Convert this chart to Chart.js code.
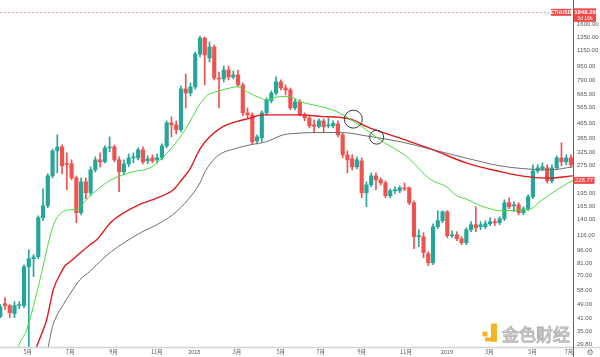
<!DOCTYPE html>
<html><head><meta charset="utf-8">
<script src="https://cdn.jsdelivr.net/npm/chart.js@4"></script>
<style>html,body{margin:0;padding:0;background:#fff}canvas{display:block}</style>
</head><body>
<canvas id="c" width="600" height="357"></canvas>
<script>
// Weekly ETHUSD candles, week 0 = week of 2017-03-20
const open = [42.0,49.4,48.2,43.6,48.2,48.2,78.1,86.4,88.5,143.7,
166.8,241.9,330,346.8,282.7,281,236,152.9,224.5,196,
260.7,295.4,288,342.5,346.8,295.4,254.3,281,302.5,302.5,
334.2,291.7,302.5,295.4,302.5,351.1,467.8,456.3,428.8,713.2,
678.4,731.2,1102,1344.3,1048.4,1202.3,817.3,807.2,902.9,827.6,
848.4,749.6,529.6,516.5,373.7,388,529.6,614.5,678.4,778.1,
722.1,704.2,563.2,606.9,516.5,497.6,456.3,447.8,479.5,450.6,
450.6,462,403,314.1,299,270.7,291.7,196,216.3,241.9,
230.2,221.7,188.8,201,201,208.4,208.4,173.1,113.5,113.5,
91.9,82.1,128.5,138.5,154.8,114.9,116.3,110.7,105.3,123.8,
131.7,128.5,128.5,133.4,136.8,135.1,141.9,173.1,166.8,168.9,
152.9,160.7,186.5,257.4,264,267.3,227.3,267.3,302.5,288,
302.5];
const high = [48.8,53.2,48.8,50.6,50.6,80.1,96.6,90.8,147.2,205.8,
248,338,403,355.5,322,295.4,241.9,236,236,270,
306.4,322,351,393,355,306.4,295,318,322,342.5,
346.8,310.2,314,318,360,479.5,504,479.5,740.3,859,
768.5,1130,1378,1360,1279.5,1232.6,880.7,949,949,891.6,
902.9,768.5,563.2,529.6,403,542.9,637.9,695.4,828,797.8,
749.6,722.1,630,622.2,529.6,510.1,485.6,491.6,491.6,497.6,
479.5,479.5,413.1,330,314.1,306.4,302.5,224.5,251.1,251.1,
236,227.3,205.8,211,213.6,221.7,211,177.5,123.8,119.3,
94.2,133.4,156.7,156.8,156.8,122.3,120.8,113.5,126.9,136.8,
164.7,136.8,138.5,143.7,141.9,145.5,179.7,184.2,175.3,173.1,
164.7,191.2,277.5,277.5,284.5,277.5,277.5,310.2,364.5,314.1,
314.1];
const low = [41.5,45.8,41.5,41.5,46.4,47.0,15,69.1,86.4,138.5,
162.7,236,251,248,203.5,230,135,149,181.9,189,
254,270.7,284.5,326,288,198.5,245,270.7,284.5,295.4,
281,281,284.5,284.5,295.4,342.5,393,408,418.3,563.2,
653.5,713.2,1061.7,749.6,997.5,797.2,563.2,778,797.2,807.2,
731.2,510.1,497.6,360,360,369,516.5,599.4,661.7,704.2,
661.7,549.7,549.7,510.1,479.5,439.5,413.1,439.5,413.1,439.5,
439.5,393,302.5,251.1,260.7,264,184.2,164.7,211,203.5,
216.3,184.2,184.2,193.6,196,201,168.9,97.7,100.2,87.4,
79.1,80.1,125.4,135,112.1,112.1,108,102.7,102.7,120.8,
120.8,123.8,125.4,130.1,130.1,131.7,138.5,160.7,154.8,149.1,
149.1,156.8,182,251.1,257.4,221.7,221.7,260.7,274,277.5,
270.7];
const close = [47.6,48.2,44.1,48.2,48.5,78.1,86.4,88.2,143.7,166.8,
241.9,330,346.8,274,279.3,236,152.9,224.5,196,260.7,
295.4,288,342.5,346.8,295.4,254.3,281,302.5,304.4,334.2,
288,299,291.7,302.5,351.1,467.8,456.3,428.8,713.2,678.4,
731.2,1102,1344.3,1088,1202.3,817.3,807.2,902.9,827.6,848.4,
749.6,529.6,516.5,369.1,393,529.6,622.2,678.4,778.1,722.1,
704.2,563.2,606.9,516.5,497.6,450.6,447.8,479.5,445.1,456.3,
464.9,403,314.1,295.4,270.7,295.4,196,216.3,241.9,230.2,
221.7,188.8,201,202.2,208.4,205.8,173.1,113.5,114.2,93.05,
82.1,128.5,138.5,154.8,114.9,116.3,110.7,105.3,123.8,131.7,
126.9,131.7,133.4,136.8,135.1,141.9,173.1,164.7,168.9,152.9,
160.7,186.5,257.4,267.3,270.7,227.3,267.3,302.5,288,302.5,
277.5];

// Moving averages (week position, value)
const greenWeeks = [3.0,3.8,5.56,8.36,10.46,11.51,13.26,15.03,16.41,17.46,19.57,23.08,27.91,31.49,32.96,35.27,38.32,40.32,42.0,43.68,45.51,48.31,49.99,51.82,54.62,56.02,58.82,60.92,63.03,66.81,70.39,72.9,76.0,79.85,85.46,90.57,93.87,95.97,98.08,100.45,102.98,105.08,107.8,109.9,112.02,113.49,116.2,117.7,120.4];
const greenMA = [24,28.9,35.7,66.5,113.9,137.3,155.4,158.7,160.1,172.5,195.3,228.7,254.3,267.3,284.5,326,408,497.8,592,661.7,689.4,722.1,734,689.4,637.4,622.2,647.9,647.9,609.2,577.4,542.9,500.7,446.7,378.4,307.5,230.2,211,188.8,181.3,168.9,160.7,156.7,157.3,158.7,162.7,176,196.8,208.4,228.77];
const redWeeks = [7.0,7.67,9.05,9.77,11.16,12.92,13.62,14.67,16.14,18.87,20.28,23.44,28.69,32.9,36.39,37.8,39.9,42.0,44.1,46.84,49.72,52.5,55.25,59.45,63.03,67.86,71.44,74.17,77.05,84.06,91.06,98.08,105.08,110.7,115.6,120.4];
const redMA = [25,28.9,35.7,40.5,58.75,73.8,79.1,83.1,89.6,102.7,109.3,137.3,166.8,183.5,203.5,224.5,264,338.4,394.5,446.7,475.4,495.8,516.5,516.5,516.5,505.7,500.7,485.6,446.7,386.5,334.2,283.5,255.2,239.8,235.1,241.9];
const grayWeeks = [9.4,10.1,10.82,11.51,13.26,15.72,16.77,18.87,20.28,23.4,29.39,33.59,37.1,40.59,42.0,43.05,45.51,49.72,52.52,56.02,59.52,63.03,66.54,70.74,73.54,75.64,79.85,84.06,91.06,98.08,105.08,111.39,115.6,120.4];
const grayMA = [25,28.9,35.7,40.5,48.8,61.2,66.5,73.8,80.1,94.5,118.8,134.6,155.4,195.3,221.7,254.3,307.5,341.2,355.6,370.5,403,411.6,414.9,414.9,411.6,403,386.5,370.5,334.2,301.4,274.1,263.1,260.7,270.7];

// Circled crossings
const crossWeeks = [74.24, 79.15];
const crossValues = [489.8, 391.6];
const crossRadius = [9, 7];

// Axis ticks
const xTickWeeks = [5.8,14.7,23.8,32.9,40.8,49.8,59.0,67.4,76.0,85.3,93.9,102.8,111.9,119.6];
const xTickLabels = ['5月','7月','9月','11月','2018','3月','5月','7月','9月','11月','2019','3月','5月','7月'];
const yTickValues = [1600,1350,1150,950,790,665,565,465,385,325,275,195,165,140,116,96,81,70,58,49,41,35,29.8];

const priceLine = 1849.29;
const priceCountdown = '3d 16h';
const symbol = 'ETHUSD';
const maLastValue = 228.77;

const TEAL = '#26a69a', RED = '#ef5350', TAG = '#f04848';
const candleColors = close.map((c, i) => c >= open[i] ? TEAL : RED);

const overlay = {
  id: 'overlay',
  beforeDatasetsDraw(chart) {
    const {ctx, chartArea: a, scales: {y}} = chart;
    const py = Math.round(y.getPixelForValue(priceLine)) + 0.5;
    ctx.save();
    ctx.strokeStyle = '#f2a7a7';
    ctx.lineWidth = 1;
    ctx.setLineDash([2, 2]);
    ctx.beginPath(); ctx.moveTo(a.left, py); ctx.lineTo(a.right - 24, py); ctx.stroke();
    ctx.restore();
  },
  afterDraw(chart) {
    const {ctx, chartArea: a, scales: {y}} = chart;
    ctx.save();
    // axis lines
    ctx.strokeStyle = '#d3d3d3'; ctx.lineWidth = 1.5;
    ctx.beginPath(); ctx.moveTo(0, a.bottom + 0.5); ctx.lineTo(chart.width, a.bottom + 0.5); ctx.stroke();
    ctx.strokeStyle = '#5f626b'; ctx.lineWidth = 1;
    ctx.beginPath(); ctx.moveTo(a.right + 0.5, 0); ctx.lineTo(a.right + 0.5, chart.height); ctx.stroke();

    // symbol tag + price box
    const py = y.getPixelForValue(priceLine);
    ctx.fillStyle = TAG;
    ctx.fillRect(a.right - 22, py - 3.5, 20, 7);
    ctx.fillRect(a.right + 1, py - 4, 22, 13.5);
    ctx.fillStyle = '#fff';
    ctx.textAlign = 'center'; ctx.textBaseline = 'middle';
    ctx.font = 'bold 5px "Liberation Sans", Arial, sans-serif';
    ctx.fillText(symbol, a.right - 12, py);
    ctx.font = 'bold 6px "Liberation Sans", Arial, sans-serif';
    ctx.fillText(priceLine.toFixed(2), a.right + 12, py);
    ctx.font = '5px "Liberation Sans", Arial, sans-serif';
    ctx.fillText(priceCountdown, a.right + 12, py + 6);

    // last MA value label
    const my = y.getPixelForValue(maLastValue);
    ctx.fillStyle = TAG;
    ctx.fillRect(a.right + 0.5, my - 3.5, 21, 7);
    ctx.fillStyle = '#fff';
    ctx.font = '6px "Liberation Sans", Arial, sans-serif';
    ctx.fillText(maLastValue.toFixed(2), a.right + 11, my + 0.3);

    // watermark
    ctx.fillStyle = '#f5b324';
    ctx.fillRect(482.5, 331.5, 5, 5);
    ctx.fillRect(491, 323.5, 6, 18);
    ctx.fillRect(485, 337.5, 12, 4);
    ctx.font = '17px "Noto Sans CJK SC", sans-serif';
    ctx.textAlign = 'left'; ctx.textBaseline = 'alphabetic';
    ctx.lineWidth = 1;
    ctx.strokeStyle = 'rgba(170,170,170,0.9)';
    ctx.fillStyle = 'rgba(255,255,255,0.55)';
    ctx.fillText('金色财经', 502, 341);
    ctx.strokeText('金色财经', 502, 341);

    // settings icon
    ctx.fillStyle = '#777';
    ctx.textAlign = 'center'; ctx.textBaseline = 'middle';
    ctx.font = '8px "DejaVu Sans", sans-serif';
    ctx.fillText('⚙', a.right + 17, a.bottom + 5.5);
    ctx.restore();
  }
};

new Chart(document.getElementById('c'), {
  type: 'bar',
  data: {
    datasets: [
      { type: 'line', label: 'cross', order: 0,
        data: crossWeeks.map((w, i) => ({x: w, y: crossValues[i]})),
        showLine: false, pointRadius: crossRadius, pointHoverRadius: crossRadius,
        pointBorderColor: '#3a3a3a', pointBackgroundColor: 'rgba(0,0,0,0)', pointBorderWidth: 1 },
      { type: 'line', label: 'MA green', order: 1,
        data: greenWeeks.map((w, i) => ({x: w, y: greenMA[i]})),
        borderColor: '#48db3e', borderWidth: 1, pointRadius: 0, cubicInterpolationMode: 'monotone' },
      { type: 'line', label: 'MA red', order: 1,
        data: redWeeks.map((w, i) => ({x: w, y: redMA[i]})),
        borderColor: '#e0191c', borderWidth: 1.4, pointRadius: 0, cubicInterpolationMode: 'monotone' },
      { type: 'line', label: 'MA gray', order: 1,
        data: grayWeeks.map((w, i) => ({x: w, y: grayMA[i]})),
        borderColor: '#6e6e6e', borderWidth: 1, pointRadius: 0, cubicInterpolationMode: 'monotone' },
      { type: 'bar', label: 'body', order: 2,
        data: open.map((o, i) => ({x: i, y: [o, close[i]]})),
        backgroundColor: candleColors, barThickness: 3.5, minBarLength: 1, grouped: false, borderWidth: 0 },
      { type: 'bar', label: 'wick', order: 3,
        data: open.map((o, i) => ({x: i, y: [low[i], high[i]]})),
        backgroundColor: candleColors, barThickness: 1, grouped: false, borderWidth: 0 }
    ]
  },
  options: {
    responsive: false, animation: false, devicePixelRatio: 1,
    layout: { padding: 0, autoPadding: false },
    plugins: { legend: { display: false }, tooltip: { enabled: false } },
    scales: {
      x: {
        type: 'linear', min: -0.05, max: 120.43, offset: false,
        grid: { display: false, drawTicks: false, offset: false }, border: { display: false },
        afterBuildTicks: s => { s.ticks = xTickWeeks.map(v => ({value: v})); },
        afterFit: s => { s.height = 10; s.paddingLeft = 0; s.paddingRight = 0; },
        ticks: { autoSkip: false, maxRotation: 0, padding: 2, color: '#555',
          font: { size: 5.5, family: '"Noto Sans CJK SC", sans-serif' },
          callback: (v, i) => xTickLabels[i] }
      },
      y: {
        type: 'logarithmic', position: 'right', min: 28.79, max: 2156,
        grid: { display: false, drawTicks: false }, border: { display: false },
        afterBuildTicks: s => { s.ticks = yTickValues.map(v => ({value: v})); },
        afterFit: s => { s.width = 27; s.paddingTop = 0; s.paddingBottom = 0; },
        ticks: { autoSkip: false, padding: 4, color: '#555',
          font: { size: 6, family: '"Liberation Sans", Arial, sans-serif' },
          callback: v => Number(v).toFixed(2) }
      }
    }
  },
  plugins: [overlay]
});
</script>
</body></html>
